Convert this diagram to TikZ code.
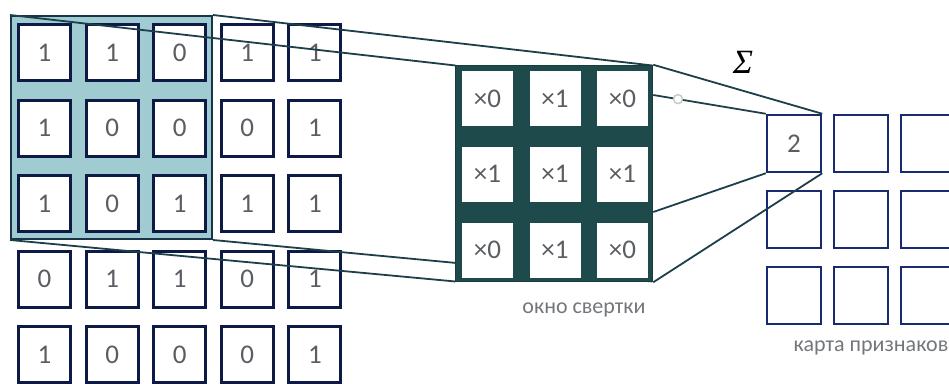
\documentclass[tikz,border=0pt]{standalone}
\usepackage{fontspec}
\setmainfont{Carlito}
\newfontfamily\sigfont{Liberation Serif}
\usetikzlibrary{positioning}
\usetikzlibrary{calc}
\definecolor{cellnavy}{HTML}{0E1A46}
\definecolor{outnavy}{HTML}{1A2A6E}
\definecolor{numgray}{HTML}{5A5E62}
\definecolor{winfill}{HTML}{9FCBD1}
\definecolor{windraw}{HTML}{17344A}
\definecolor{kernfill}{HTML}{1E4A4C}
\definecolor{linkcol}{HTML}{1C3F4A}
\tikzset{
    incell/.style = {rectangle, line width=3pt, draw=cellnavy, fill=white, inner sep=0pt,
        minimum width=52pt, minimum height=56pt, font=\fontsize{27}{27}\selectfont, text=numgray},
    kcell/.style = {rectangle, fill=white, inner sep=0pt,
        minimum width=51pt, minimum height=55pt, font=\fontsize{27}{27}\selectfont, text=numgray},
    outcell/.style = {rectangle, line width=2.5pt, draw=outnavy, fill=white, inner sep=0pt,
        minimum width=54pt, minimum height=57pt, font=\fontsize{27}{27}\selectfont, text=numgray},
    winbox/.style = {rectangle, line width=2pt, draw=windraw, fill=winfill,
        minimum width=201pt, minimum height=223pt},
    kernbox/.style = {rectangle, line width=1.5pt, draw=kernfill!80!black, fill=kernfill,
        minimum width=197pt, minimum height=216pt},
    link/.style = {-, line width=1.8pt, linkcol},
    lbl/.style = {font=\fontsize{22}{22}\selectfont, text=numgray!85!white}
}

\begin{document}
\begin{tikzpicture}[x=1pt, y=-1pt]
    \useasboundingbox (0,0) rectangle (949,383);

    % input window
    \node[winbox] (win) at (111.5,127.5) {};

    % input image
    \foreach \v [count=\n from 0] in {1,1,0,1,1, 1,0,0,0,1, 1,0,1,1,1, 0,1,1,0,1, 1,0,0,0,1} {
        \pgfmathtruncatemacro\r{int(\n/5)+1}
        \pgfmathtruncatemacro\c{mod(\n,5)+1}
        \node[incell] (i\r\c) at ({44.5+67.6*(\c-1)},{52.5+75.6*(\r-1)}) {\v};
    }

    % window to kernel (behind the kernel)
    \coordinate (kc) at (554,173.5);
    \draw[link] (win.north west) -- ($(kc)+(-98.5,-108)$);
    \draw[link] (win.north east) -- ($(kc)+(98.5,-108)$);
    \draw[link] (win.south west) -- ($(kc)+(-98.5,108)$);
    \draw[link] (win.south east) -- ($(kc)+(98.5,108)$);

    % kernel
    \node[kernbox] (kern) at (kc) {};
    \foreach \v [count=\n from 0] in {0,1,0, 1,1,1, 0,1,0} {
        \pgfmathtruncatemacro\r{int(\n/3)+1}
        \pgfmathtruncatemacro\c{mod(\n,3)+1}
        \node[kcell] (k\r\c) at ({487.5+67.5*(\c-1)},{98.5+75.8*(\r-1)}) {×\v};
    }
    \node[lbl] (klbl) at (584,310) {окно свертки};

    % feature map
    \foreach \r in {1,2,3} {
        \foreach \c in {1,2,3} {
            \node[outcell] (o\r\c) at ({794+67*(\c-1)},{143.5+76*(\r-1)}) {};
        }
    }
    \node[font=\fontsize{27}{27}\selectfont, text=numgray] at (o11) {2};
    \node[lbl] (olbl) at (871,348) {карта признаков};

    % kernel to feature map
    \coordinate (ka) at (kern.east |- 0,95);
    \coordinate (kb) at (kern.east |- 0,212);
    \draw[link] (kern.north east) -- (o11.north east);
    \draw[link] (ka) -- (o11.north west);
    \draw[link] (kb) -- (o11.south west);
    \draw[link] (kern.south east) -- (o11.south east);
    \node[circle, draw=gray!45, fill=white, line width=1.4pt, minimum size=9pt, inner sep=0pt] (mark) at ($(ka)!0.22!(o11.north west)$) {};

    \node[font=\fontsize{34}{34}\selectfont\sigfont\itshape] (sig) at (743,62) {Σ};
\end{tikzpicture}
\end{document}
